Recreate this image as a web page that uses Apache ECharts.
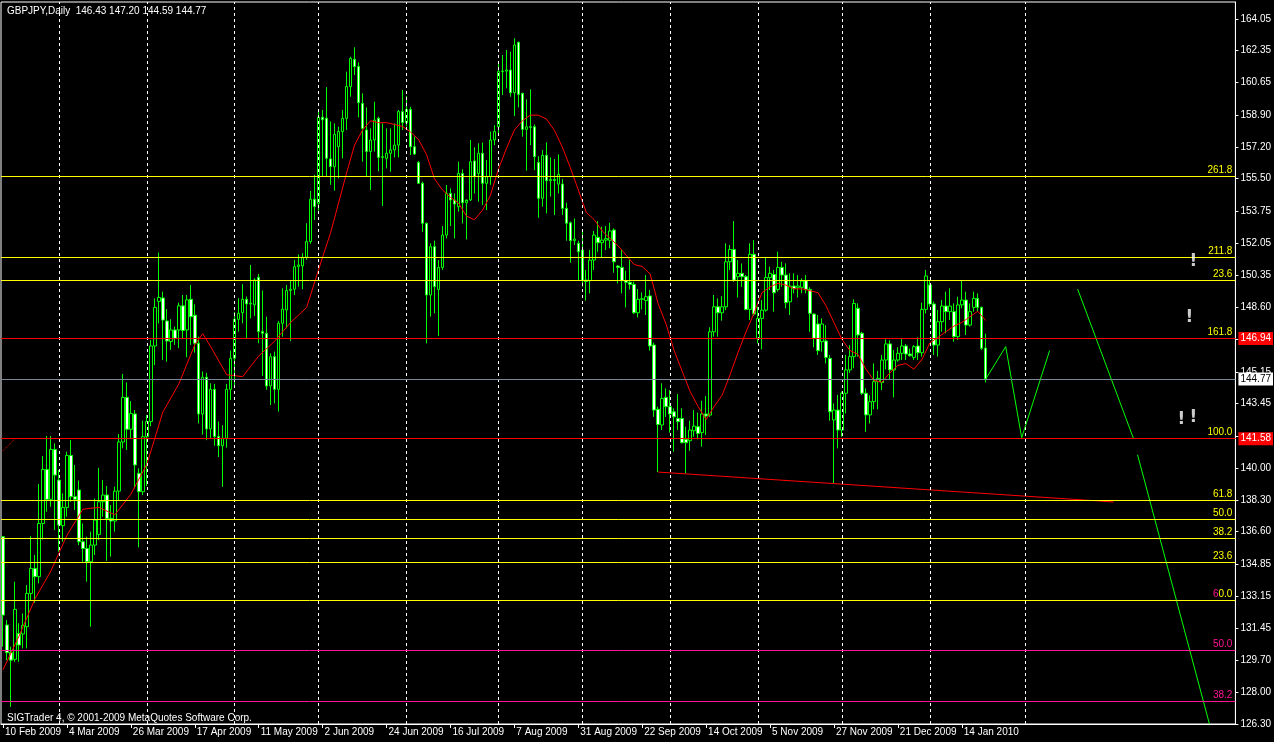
<!DOCTYPE html>
<html><head><meta charset="utf-8">
<script src="https://cdn.jsdelivr.net/npm/echarts/dist/echarts.min.js"></script>
<style>html,body{margin:0;padding:0;background:#000;}#chart{width:1274px;height:742px;}</style>
</head><body><div id="chart"></div>
<script>
// ---------- DATA ----------
const symbolTitle = 'GBPJPY,Daily  146.43 147.20 144.59 144.77';
const footerText = 'SIGTrader 4, \u00a9 2001-2009 MetaQuotes Software Corp.';
const firstDate = [2009, 1, 10];            // 10 Feb 2009 (year, monthIndex, day)
const holidays = ['2009-12-25', '2010-01-01'];
const totalSlots = 309;                     // trading-day slots incl. empty future area
const monthNames = ['Jan','Feb','Mar','Apr','May','Jun','Jul','Aug','Sep','Oct','Nov','Dec'];
const labelEvery = 16;
const lastBar = 246;
// bars carrying a vertical dashed grid line
const gridBars = [14,36,58,79,101,124,145,167,189,210,232,256];

// daily bars: [open, high, low, close]
const ohlc = [
[136.33,136.36,130.44,132.13],[131.60,131.87,129.72,130.12],[130.12,130.44,127.22,129.72],[129.76,133.92,129.63,132.44],
[131.15,131.69,129.63,130.53],[131.12,132.22,130.35,131.58],[131.51,133.74,130.35,133.29],[133.29,136.36,132.94,134.63],
[134.63,135.35,132.79,134.19],[134.19,139.15,133.83,137.04],[137.04,140.65,136.18,139.93],[139.93,141.72,137.67,138.33],
[138.33,141.72,137.93,141.00],[141.00,141.33,136.69,139.63],[139.36,139.90,135.53,136.95],[136.92,138.65,136.06,137.90],
[137.90,140.88,137.40,140.68],[140.68,141.50,138.20,138.47],[138.47,140.17,137.76,138.33],[138.83,139.33,135.88,136.06],
[136.06,137.04,134.99,135.70],[135.70,136.33,133.92,134.99],[134.99,136.60,131.51,135.88],[135.88,138.38,135.35,137.22],
[136.45,140.02,136.15,138.20],[138.20,139.36,137.40,138.56],[138.56,139.04,135.04,137.31],[137.31,138.02,135.26,137.17],
[137.17,139.01,136.60,138.77],[138.77,141.83,138.29,141.40],[141.40,145.04,141.06,143.79],[143.79,144.59,140.97,142.08],
[142.08,143.59,141.59,142.93],[142.90,143.11,138.92,140.17],[139.72,139.99,135.76,138.74],[138.74,142.54,138.56,141.68],
[141.68,142.84,139.04,142.50],[142.50,146.86,142.25,146.54],[146.54,149.09,145.52,148.61],[148.93,151.54,147.75,149.14],
[149.11,149.45,145.79,147.93],[147.88,148.52,145.70,146.81],[146.78,147.97,146.33,147.40],[147.40,147.58,146.60,146.95],
[147.40,148.86,146.42,148.69],[148.69,149.27,146.95,147.37],[147.40,149.27,145.94,149.01],[149.04,149.81,146.60,148.11],
[148.19,148.77,146.19,146.69],[146.69,147.04,142.40,142.90],[142.90,145.17,141.80,144.87],[144.87,145.10,141.50,142.10],
[142.10,144.54,141.60,144.22],[144.22,144.51,141.20,141.70],[141.70,142.50,140.60,141.20],[141.20,142.30,139.00,141.60],
[141.60,144.51,141.10,144.22],[144.22,146.30,143.65,145.88],[145.88,148.37,144.37,147.97],[147.97,149.10,147.31,148.29],
[148.33,149.85,147.76,149.04],[149.04,149.19,146.95,148.79],[148.79,150.88,148.02,148.83],[148.74,150.17,148.15,150.08],
[150.22,150.40,146.69,147.31],[147.31,149.51,144.94,147.22],[147.22,148.11,144.19,144.40],[144.40,146.15,143.38,145.97],
[145.97,146.24,143.47,144.22],[144.22,147.88,143.03,147.76],[147.76,149.63,147.04,148.51],[148.47,149.81,147.49,149.51],
[149.51,150.08,146.81,149.58],[149.58,151.15,149.27,150.79],[150.79,151.45,149.72,150.88],[150.83,151.51,149.58,151.29],
[151.29,153.11,151.15,152.13],[152.13,154.84,152.01,154.40],[154.40,155.70,153.29,154.01],[154.18,159.15,153.79,158.79],
[158.79,159.18,155.61,158.65],[158.74,160.40,155.61,156.59],[156.56,158.56,155.17,156.15],[156.14,158.46,154.86,157.87],
[157.21,158.28,155.52,158.02],[158.02,159.18,156.59,158.73],[158.73,161.23,158.11,160.43],[160.43,162.03,159.89,161.94],
[161.89,162.53,161.05,161.50],[161.50,161.73,158.78,159.57],[159.53,160.07,156.41,158.19],[158.11,159.32,155.61,156.95],
[156.95,158.19,154.89,157.57],[157.57,159.62,156.95,158.64],[158.73,158.82,155.90,156.64],[156.64,158.46,154.04,156.68],
[156.59,158.19,156.05,156.86],[156.86,158.19,155.87,157.04],[157.04,158.46,156.64,157.30],[157.30,159.18,156.64,159.09],
[159.09,160.25,158.11,158.50],[158.50,159.93,158.30,159.21],[159.21,159.35,156.77,157.21],[157.21,157.75,156.77,156.82],
[156.36,156.45,155.22,155.25],[155.25,155.34,152.66,153.11],[153.11,153.15,146.68,149.27],[149.27,152.04,148.11,151.86],
[151.86,152.18,148.29,149.72],[149.57,151.14,147.07,150.75],[150.75,152.96,150.61,152.48],[152.48,155.16,152.30,154.71],
[154.71,154.98,152.96,154.36],[154.36,154.71,152.30,154.14],[154.00,156.41,153.73,155.78],[155.78,156.00,153.11,154.21],
[154.21,154.30,152.25,154.36],[154.36,157.57,154.30,156.41],[156.45,157.18,154.71,155.61],[155.78,157.39,154.27,156.86],
[156.86,157.43,154.09,155.25],[155.25,156.50,153.82,155.61],[155.61,158.02,155.17,157.57],[157.57,158.37,157.30,158.02],
[158.28,161.76,157.90,161.23],[161.23,162.12,159.98,161.26],[161.26,162.39,160.34,161.32],[161.32,162.30,159.89,160.10],
[160.10,163.01,158.85,162.66],[162.80,162.84,159.32,160.01],[160.07,160.10,157.75,158.14],[158.14,159.75,155.93,158.28],
[158.28,160.28,157.30,158.25],[158.28,158.40,155.96,156.68],[156.37,156.70,153.41,154.45],[154.45,157.03,154.00,156.75],
[156.75,157.44,153.64,155.39],[155.39,156.64,154.54,155.46],[155.46,156.55,153.55,155.40],[155.21,156.80,154.71,155.73],
[155.21,155.48,153.55,153.91],[153.91,154.21,152.18,153.11],[153.14,153.20,151.00,152.18],[152.18,153.37,151.95,152.27],
[152.04,152.18,150.04,151.59],[151.68,152.75,149.72,150.07],[150.07,150.61,148.97,150.00],[150.04,151.68,149.36,151.14],
[151.14,152.70,150.61,152.48],[152.36,153.23,151.59,152.07],[152.07,152.93,151.27,152.21],[152.21,152.96,151.68,152.29],
[152.20,153.14,151.77,152.70],[152.75,152.84,150.47,151.05],[150.82,150.88,149.89,150.75],[150.75,151.73,149.36,150.04],
[150.04,150.57,148.61,149.95],[149.95,151.14,149.57,149.84],[149.84,149.98,148.25,148.32],[148.32,149.59,148.07,149.04],
[149.04,149.41,148.50,149.07],[148.97,150.34,148.20,149.18],[149.22,149.54,146.29,146.54],[146.59,146.72,142.75,143.11],
[143.15,143.29,139.79,142.34],[142.31,144.54,142.04,143.73],[143.79,144.27,142.75,143.29],[143.29,144.18,141.90,142.90],
[143.02,143.20,140.88,142.75],[142.66,143.97,142.04,142.49],[142.66,143.20,141.33,141.36],[141.54,142.22,139.72,141.36],
[141.47,142.54,140.93,142.04],[142.00,143.11,141.68,142.25],[142.22,142.97,141.54,141.86],[141.90,143.61,141.15,142.90],
[142.90,143.86,141.77,142.79],[142.84,147.54,142.75,147.30],[147.30,149.27,147.04,148.64],[148.64,149.09,147.04,148.32],
[148.32,149.20,147.90,148.64],[148.64,152.04,148.46,151.05],[151.05,151.95,150.61,151.71],[151.71,153.23,149.98,150.07],
[150.25,151.14,149.14,150.43],[150.43,150.96,149.71,150.25],[150.25,150.34,148.46,148.50],[148.50,152.04,147.93,151.45],
[151.45,152.21,148.14,148.25],[146.95,148.64,146.68,148.02],[148.02,149.00,146.36,148.46],[148.46,151.29,148.38,150.21],
[150.20,150.79,149.54,150.43],[150.37,150.61,148.38,149.39],[149.57,151.59,149.45,150.75],[150.75,151.05,149.71,150.34],
[150.34,150.96,148.55,148.86],[148.91,150.43,148.20,149.75],[149.75,150.43,149.36,149.61],[149.68,150.34,149.14,149.75],
[149.68,150.16,149.36,150.02],[150.04,150.34,149.36,149.57],[149.57,149.68,147.30,148.29],[148.25,148.29,146.47,146.95],
[147.72,148.20,146.06,146.29],[146.77,148.02,146.24,147.72],[146.81,147.66,145.61,145.93],[145.88,146.06,142.54,143.02],
[142.58,143.47,139.20,143.11],[143.11,143.92,141.06,142.04],[142.04,144.10,141.68,144.01],[144.01,146.06,142.93,145.26],
[145.26,146.59,145.10,145.97],[145.97,149.04,145.35,148.82],[148.56,148.82,145.97,147.13],[147.22,147.30,143.92,144.01],
[144.01,144.27,141.95,142.85],[142.85,143.90,142.40,143.56],[143.56,145.61,143.15,144.63],[144.63,145.20,143.15,144.81],
[144.58,146.06,144.18,145.79],[145.79,146.90,145.29,146.65],[146.65,146.85,144.72,145.26],[145.26,146.33,143.79,145.79],
[145.79,146.47,145.70,146.15],[146.15,146.91,145.79,146.54],[146.54,146.65,145.79,146.11],[146.11,146.40,145.97,146.02],
[145.93,146.59,145.79,146.50],[146.54,147.00,145.79,146.18],[146.18,148.86,145.97,148.50],[148.50,150.61,148.29,150.29],
[149.81,150.07,148.65,148.79],[148.79,148.92,146.06,146.59],[146.59,148.47,145.97,147.84],[147.84,149.00,147.31,148.68],
[148.68,149.45,147.22,148.38],[148.38,149.63,147.93,148.68],[148.38,148.82,146.77,147.04],[147.04,149.18,146.86,148.74],
[148.74,150.04,148.56,149.00],[149.00,149.45,147.13,147.66],[147.66,148.82,147.58,148.38],[148.61,149.45,148.38,149.09],
[149.09,149.36,148.38,148.61],[148.61,148.65,146.33,146.42],[146.43,147.20,144.59,144.77]
];

// moving average: [barIndex, value]
const maPoints = [
[0,129.2],[4,131.0],[8,133.0],[12,134.5],[16,136.4],[20,137.8],[24,137.9],[28,137.5],[32,138.6],[36,140.2],
[40,143.0],[44,144.5],[48,146.6],[50,147.2],[52,146.5],[56,145.0],[60,144.9],[64,146.0],[68,146.8],[72,147.8],
[76,148.6],[80,151.3],[82,152.6],[84,154.2],[86,155.8],[88,157.3],[90,158.1],[92,158.6],[94,158.5],[96,158.5],
[98,158.4],[100,158.3],[102,158.0],[104,157.6],[106,156.8],[108,155.5],[110,154.9],[112,154.5],[114,154.2],[116,153.5],
[118,153.3],[120,153.8],[122,154.6],[124,156.0],[126,157.1],[128,158.1],[130,158.6],[132,158.9],[134,158.9],[136,158.7],
[138,158.1],[140,157.2],[142,156.1],[144,154.9],[146,153.7],[148,153.3],[150,152.7],[152,152.3],[154,151.9],[156,151.4],
[158,150.9],[160,150.8],[162,150.4],[164,148.8],[166,147.7],[168,146.3],[170,145.2],[172,144.1],[174,143.3],[176,142.6],
[178,143.3],[180,143.9],[182,145.0],[184,146.2],[186,147.3],[188,148.3],[190,149.4],[192,149.7],[194,149.9],[196,149.8],
[198,149.6],[200,149.6],[202,149.5],[204,149.4],[206,148.7],[208,147.8],[210,146.9],[212,146.3],[214,146.1],[216,145.3],
[218,144.7],[220,144.6],[222,145.1],[224,145.5],[226,145.6],[228,145.3],[230,145.8],[232,146.7],[234,147.0],[236,147.3],
[238,147.6],[240,147.8],[242,148.1],[244,148.4],[246,147.9]
];

// drawn objects: [barIndex, price]
const supportLine = [[164,139.79],[278,138.19]];
const fibAnchorLine = [[0,140.93],[3,141.58]];
const projectionPath = [[246,144.77],[251,146.51],[255,141.63],[262,146.30]];
const targetLineA = [[269,149.59],[283,141.58]];
const targetLineB = [[284,140.72],[302,126.30]];
const alertMarks = [[298,151.04],[297,148.04],[295,142.60],[298,142.70]];

// horizontal levels
const levelPrices = [155.61,151.27,150.04,146.94,141.58,138.28,137.26,136.22,134.96,132.92,130.24,127.53];
const levelNames  = ['261.8','211.8','23.6','161.8','100.0','61.8','50.0','38.2','23.6','60.0','50.0','38.2'];
const levelKinds  = ['fib','fib','fib','key','key','fib','fib','fib','fib','zero','low','low'];
const priceBoxes = [146.94, 141.58];
const bidPrice = 144.77;
const yTickValues = [126.30,128.00,129.70,131.45,133.15,134.85,136.60,138.30,140.00,141.70,143.45,145.15,146.90,148.60,150.35,152.05,153.75,155.50,157.20,158.90,160.65,162.35,164.05];
const yHiddenLabels = [141.70, 146.90];

// ---------- BUILD ----------
const dates = [];
{
  const d = new Date(Date.UTC(firstDate[0], firstDate[1], firstDate[2]));
  while (dates.length < totalSlots) {
    const wd = d.getUTCDay();
    const iso = d.toISOString().slice(0, 10);
    if (wd !== 0 && wd !== 6 && holidays.indexOf(iso) < 0) dates.push(new Date(d.getTime()));
    d.setUTCDate(d.getUTCDate() + 1);
  }
}
const categories = dates.map(d => d.getUTCDate() + ' ' + monthNames[d.getUTCMonth()] + ' ' + d.getUTCFullYear());

const candleData = ohlc.map(r => [r[0], r[3], r[2], r[1]]);
const labelInterval = (idx) => idx % labelEvery === 0 && idx <= lastBar;

const FONT = '"Liberation Sans", Arial, sans-serif';
const FS = 10;
const YELLOW = '#ffff00', RED = '#ff0000', PINK = '#ff1493', LIME = '#00ff00';
const kindStyle = {
  fib:  {line: YELLOW, text: YELLOW},
  key:  {line: RED,    text: YELLOW},
  zero: {line: YELLOW, text: YELLOW},
  low:  {line: PINK,   text: PINK}
};

const levelLines = levelPrices.map((v, i) => {
  const st = kindStyle[levelKinds[i]];
  const lbl = levelKinds[i] === 'zero'
    ? {formatter: '{p|6}{y|0.0}', rich: {p: {color: PINK, fontSize: FS, fontFamily: FONT}, y: {color: YELLOW, fontSize: FS, fontFamily: FONT}}}
    : {formatter: levelNames[i], color: st.text};
  return {
    yAxis: v,
    lineStyle: {color: st.line, width: 1, type: 'solid'},
    label: Object.assign({show: true, position: 'insideEndTop', distance: [3, 1], fontSize: FS, fontFamily: FONT}, lbl)
  };
});
const boxLines = priceBoxes.map(v => ({
  yAxis: v,
  lineStyle: {color: RED, width: 1, type: 'solid'},
  label: {show: true, position: 'end', distance: 3, formatter: v.toFixed(2), color: '#fff',
          backgroundColor: RED, padding: [2, 2, 1, 2], fontSize: FS, fontFamily: FONT}
}));
boxLines.push({
  yAxis: bidPrice,
  lineStyle: {color: '#778899', width: 1, type: 'solid'},
  label: {show: true, position: 'end', distance: 3, formatter: bidPrice.toFixed(2), color: '#000',
          backgroundColor: '#fff', padding: [2, 2, 1, 2], fontSize: FS, fontFamily: FONT}
});

const lineSeries = (name, data, color, z, type) => ({
  name, type: 'line', data, symbol: 'none', silent: true, z,
  lineStyle: {color, width: 1, type: type || 'solid'}, animation: false
});

const chart = echarts.init(document.getElementById('chart'), null, {renderer: 'canvas'});
chart.setOption({
  backgroundColor: '#000',
  animation: false,
  graphic: [
    {type: 'text', left: 7, top: 6, z: 100, style: {text: symbolTitle, fill: '#fff', font: FS + 'px ' + FONT}},
    {type: 'text', left: 7, top: 713, z: 100, style: {text: footerText, fill: '#fff', font: FS + 'px ' + FONT}}
  ],
  grid: {left: 1, right: 37, top: 2, bottom: 18, show: true, borderColor: '#fff', borderWidth: 1, backgroundColor: '#000'},
  xAxis: {
    type: 'category', data: categories, boundaryGap: true,
    axisLine: {show: true, lineStyle: {color: '#fff', width: 1}},
    axisTick: {show: true, alignWithLabel: true, interval: labelInterval, length: 4, lineStyle: {color: '#fff'}},
    axisLabel: {interval: labelInterval, color: '#fff', align: 'left', fontSize: FS, fontFamily: FONT, margin: 3, padding: [0, 0, 0, 2]},
    splitLine: {show: false}
  },
  yAxis: {
    type: 'value', position: 'right', min: 126.30, max: 164.96,
    axisLine: {show: true, lineStyle: {color: '#fff', width: 1}},
    axisTick: {show: true, customValues: yTickValues, length: 3, lineStyle: {color: '#fff'}},
    axisLabel: {customValues: yTickValues.filter(v => yHiddenLabels.indexOf(v) < 0), formatter: v => v.toFixed(2),
                color: '#fff', fontSize: FS, fontFamily: FONT, margin: 5},
    splitLine: {show: false}
  },
  series: [
    {
      name: 'grid', type: 'line', data: [], z: 1, silent: true,
      markLine: {silent: true, symbol: ['none', 'none'], animation: false,
        lineStyle: {color: '#fff', width: 1, type: [3, 3]}, label: {show: false},
        data: gridBars.map(i => ({xAxis: i}))}
    },
    {
      name: 'levels', type: 'line', data: [], z: 2, silent: true,
      markLine: {silent: true, symbol: ['none', 'none'], animation: false, precision: 2,
        data: levelLines.concat(boxLines)}
    },
    {
      name: 'GBPJPY', type: 'candlestick', data: candleData, barWidth: 3, z: 3, silent: true,
      itemStyle: {color: '#000', color0: '#fff', borderColor: LIME, borderColor0: LIME, borderWidth: 1}
    },
    lineSeries('MA', maPoints, RED, 4),
    lineSeries('support', supportLine, RED, 4),
    lineSeries('fibAnchor', fibAnchorLine, RED, 4, 'dotted'),
    lineSeries('projection', projectionPath, LIME, 4),
    lineSeries('targetA', targetLineA, LIME, 4),
    lineSeries('targetB', targetLineB, LIME, 4),
    {
      name: 'alerts', type: 'scatter', data: alertMarks, symbolSize: 1, silent: true, z: 5,
      itemStyle: {color: 'rgba(0,0,0,0)'},
      label: {show: true, formatter: '!', position: 'inside', color: '#fff', fontSize: 17, fontWeight: 'bold', fontFamily: 'DejaVu Sans, sans-serif'}
    }
  ]
});
</script></body></html>
